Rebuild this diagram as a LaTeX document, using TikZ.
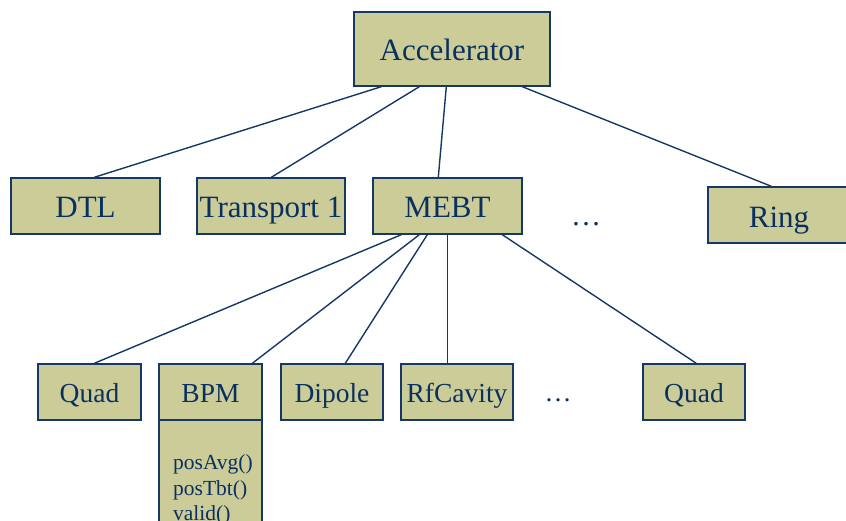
\documentclass[tikz,border=0pt]{standalone}
\usepackage{fontspec}
\setmainfont{Liberation Serif}
\usetikzlibrary{calc}
\definecolor{boxfill}{RGB}{204,204,153}
\definecolor{navy}{RGB}{22,56,102}
\definecolor{inktext}{RGB}{10,48,96}
\tikzset{
  box/.style={draw=navy, fill=boxfill, line width=1.4pt, inner sep=0pt, text=inktext},
  big/.style={box, font=\fontsize{31}{35}\selectfont, minimum height=56pt, text height=22pt, text depth=0pt},
  small/.style={box, font=\fontsize{27.5}{31}\selectfont, minimum height=56pt, text height=20pt, text depth=0pt},
  conn/.style={draw=navy, line width=1.4pt},
  method/.style={text=inktext, font=\fontsize{21.5}{24}\selectfont, anchor=base west, inner sep=0pt},
  dotsnode/.style={text=inktext, inner sep=0pt, anchor=base}
}
\begin{document}
\begin{tikzpicture}[x=1pt,y=-1pt]
\useasboundingbox (0,0) rectangle (846,520);
\clip (0,0) rectangle (846,520);
% top
\node[big, minimum width=196pt, minimum height=74pt] (acc) at (452,49) {Accelerator};
% middle row
\node[big, minimum width=149pt] (dtl) at (85.5,206) {DTL};
\node[big, minimum width=148pt] (tr) at (271,206) {Transport 1};
\node[big, minimum width=149pt] (mebt) at (447.5,206) {MEBT};
\node[big, minimum width=142pt, text height=25pt] (ring) at (779,215) {Ring};
\node[dotsnode, font=\fontsize{30}{34}\selectfont] (dots1) at (586,225) {\dots};
% bottom row
\node[small, minimum width=103pt] (quad) at (89.5,392) {Quad};
\node[box, minimum width=103pt, minimum height=120pt] (bpmbody) at (210.5,480) {};
\node[small, minimum width=103pt] (bpm) at (210.5,392) {BPM};
\node[small, minimum width=102pt] (dip) at (332,392) {Dipole};
\node[small, minimum width=112pt] (rf) at (457,392) {RfCavity};
\node[small, minimum width=102pt] (quad2) at (694,392) {Quad};
\node[dotsnode, font=\fontsize{27}{31}\selectfont] (dots2) at (558,401) {\dots};
% methods
\node[method] (m1) at (173,469) {posAvg()};
\node[method] (m2) at (173,495) {posTbt()};
\node[method] (m3) at (173,520) {valid()};
% connectors from Accelerator
\draw[conn] ([xshift=28pt]acc.south west) -- ([xshift=84pt]dtl.north west);
\draw[conn] ([xshift=66pt]acc.south west) -- ([xshift=75pt]tr.north west);
\draw[conn] ([xshift=93pt]acc.south west) -- ([xshift=66pt]mebt.north west);
\draw[conn] ([xshift=169pt]acc.south west) -- ([xshift=64pt]ring.north west);
% connectors from MEBT
\draw[conn] ([xshift=29pt]mebt.south west) -- ([xshift=57pt]quad.north west);
\draw[conn] ([xshift=47pt]mebt.south west) -- ([xshift=94pt]bpm.north west);
\draw[conn] ([xshift=55pt]mebt.south west) -- ([xshift=65pt]dip.north west);
\draw[conn] ([xshift=75pt]mebt.south west) -- ([xshift=47pt]rf.north west);
\draw[conn] ([xshift=130pt]mebt.south west) -- ([xshift=54pt]quad2.north west);
\end{tikzpicture}
\end{document}
